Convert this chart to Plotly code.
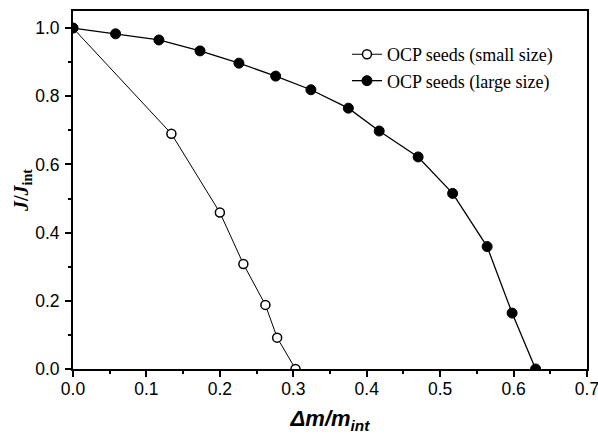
import plotly.graph_objects as go

small_x = [0.0, 0.134, 0.200, 0.232, 0.262, 0.278, 0.303]
small_y = [1.0, 0.690, 0.459, 0.308, 0.188, 0.092, 0.0]
large_x = [0.0, 0.058, 0.117, 0.173, 0.226, 0.276, 0.324, 0.375, 0.417, 0.470, 0.517, 0.564, 0.598, 0.630]
large_y = [1.0, 0.983, 0.965, 0.933, 0.897, 0.859, 0.819, 0.765, 0.698, 0.622, 0.515, 0.359, 0.164, 0.0]

fig = go.Figure()
fig.add_trace(go.Scatter(x=small_x, y=small_y, mode="lines+markers", name="OCP seeds (small size)",
                         line=dict(color="black", width=1),
                         marker=dict(symbol="circle", size=9, color="white", line=dict(color="black", width=1.5))))
fig.add_trace(go.Scatter(x=large_x, y=large_y, mode="lines+markers", name="OCP seeds (large size)",
                         line=dict(color="black", width=1.3),
                         marker=dict(symbol="circle", size=10, color="black", line=dict(color="black", width=1))))

axis_common = dict(showline=True, linecolor="black", linewidth=2, mirror=True, showgrid=False, zeroline=False,
                   ticks="outside", tickwidth=1.5, ticklen=6, tickcolor="black", ticklabeloverflow="allow",
                   automargin=False,
                   tickfont=dict(family="Arial, Liberation Sans", size=17.5, color="black"))
fig.update_xaxes(range=[0, 0.7], dtick=0.1, tickformat=".1f", ticklabelstandoff=-3,
                 minor=dict(ticks="outside", dtick=0.05, ticklen=3, tickwidth=1.5, tickcolor="black"),
                 title=dict(text="<b><i>Δm/m<sub>int</sub></i></b>", font=dict(family="Arial, Liberation Sans", size=22, color="black"), standoff=13),
                 **axis_common)
fig.update_yaxes(range=[0, 1.05], dtick=0.2, tickformat=".1f", ticklabelstandoff=2,
                 minor=dict(ticks="outside", dtick=0.1, ticklen=3, tickwidth=1.5, tickcolor="black"),
                 title=dict(text="<b><i>J</i>/<i>J</i><sub>int</sub></b>", font=dict(family="Liberation Serif, Times New Roman", size=20, color="black"), standoff=0),
                 **axis_common)
fig.update_layout(width=598, height=437, margin=dict(l=73, r=11, t=11, b=68),
                  paper_bgcolor="white", plot_bgcolor="white", showlegend=True,
                  legend=dict(x=0.533, y=0.93, xanchor="left", yanchor="top", bgcolor="rgba(0,0,0,0)",
                              font=dict(family="Liberation Serif, Times New Roman", size=18, color="black"),
                              tracegroupgap=0, itemsizing="trace"))
fig.write_html("out.html", config={"displayModeBar": False},
               post_script="document.body.style.margin='0';document.body.style.overflow='hidden';")
